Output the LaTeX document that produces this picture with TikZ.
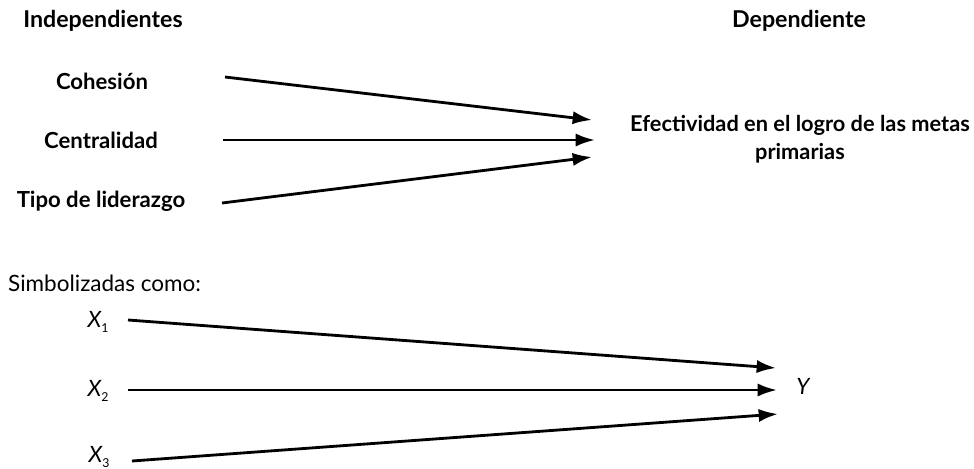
\documentclass[tikz,border=0pt]{standalone}
\usepackage{fontspec}
\setmainfont{Lato}
\usetikzlibrary{arrows.meta,positioning,calc}

\newcommand{\var}[1]{{\itshape X}\raisebox{-0.45ex}{\scriptsize #1}}

\begin{document}
\begin{tikzpicture}[x=0.02cm, y=-0.02cm, >={Latex[length=11pt,width=7.5pt]},
  font=\fontsize{12.8}{15}\selectfont,
  head/.style={font=\fontsize{13.2}{15}\selectfont\bfseries},
  lbl/.style={font=\fontsize{12.6}{15}\selectfont\bfseries},
  link/.style={->, line width=1.6pt}]
  \useasboundingbox (0,0) rectangle (974,468);

  % palabras
  \node [head] (ind) at (103,21) {Independientes};
  \node [head] (dep) at (799,21) {Dependiente};
  \node [lbl] (coh) at (102,81) {Cohesión};
  \node [lbl] (cen) at (101,140) {Centralidad};
  \node [lbl] (tip) at (101,201) {Tipo de liderazgo};
  \node [lbl, font=\fontsize{12.4}{16}\selectfont\bfseries, align=center] (efe) at (800,139) {Efectividad en el logro de las metas\\primarias};

  \coordinate (c1) at (225,77);
  \coordinate (c2) at (223,140);
  \coordinate (c3) at (222,203);
  \coordinate (e1) at (592,120);
  \coordinate (e2) at (595,140);
  \coordinate (e3) at (592,157);
  \draw [link] (c1) -- (e1);
  \draw [link] (c2) -- (e2);
  \draw [link] (c3) -- (e3);

  % simbolos
  \node [anchor=west] (sim) at (2,283) {Simbolizadas como:};
  \node (x1) at (98,322) {\var{1}};
  \node (x2) at (98,391) {\var{2}};
  \node (x3) at (99,457) {\var{3}};
  \node (y) at (803,386) {\itshape Y};

  \coordinate (s1) at (128,320);
  \coordinate (s2) at (128,390);
  \coordinate (s3) at (132,461);
  \coordinate (t1) at (776,368);
  \coordinate (t2) at (777,390);
  \coordinate (t3) at (778,414);
  \draw [link] (s1) -- (t1);
  \draw [link] (s2) -- (t2);
  \draw [link] (s3) -- (t3);
\end{tikzpicture}
\end{document}
